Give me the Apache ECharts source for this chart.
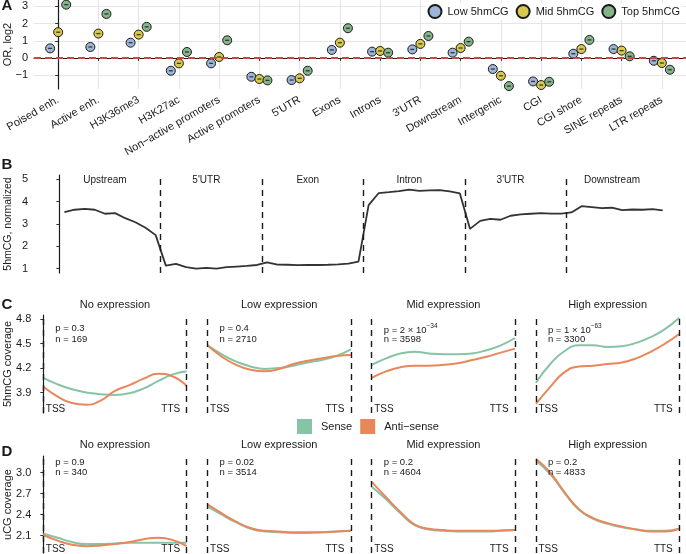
<!DOCTYPE html>
<html>
<head>
<meta charset="utf-8">
<script src="https://cdn.jsdelivr.net/npm/echarts@6/dist/echarts.min.js"></script>
<style>
html, body { margin: 0; padding: 0; background: #fff; }
#chart { width: 686px; height: 554px; }
</style>
</head>
<body>
<div id="chart"></div>
<script>
const FONT = "'Liberation Sans', Arial, sans-serif";
const INK = '#1a1a1a';

// A: odds ratios (log2) per genomic feature
const categories = ['Poised enh.', 'Active enh.', 'H3K36me3', 'H3K27ac', 'Non\u2212active promoters', 'Active promoters', "5'UTR", 'Exons', 'Introns', "3'UTR", 'Downstream', 'Intergenic', 'CGI', 'CGI shore', 'SINE repeats', 'LTR repeats'];
const lowHm = [0.56, 0.64, 0.89, -0.74, -0.31, -1.09, -1.28, 0.47, 0.37, 0.50, 0.31, -0.64, -1.36, 0.25, 0.52, -0.16];
const midHm = [1.50, 1.42, 1.36, -0.31, 0.06, -1.22, -1.18, 0.89, 0.41, 0.82, 0.58, -1.03, -1.57, 0.52, 0.43, -0.29];
const topHm = [3.10, 2.56, 1.81, 0.35, 1.03, -1.30, -0.74, 1.73, 0.31, 1.28, 0.95, -1.63, -1.38, 1.05, 0.10, -0.68];
const orTicks = [-1, 0, 1, 2, 3];

// B: metagene profile, 10 bins per section
const sections = ['Upstream', "5'UTR", 'Exon', 'Intron', "3'UTR", 'Downstream'];
const profile = [
  3.53, 3.64, 3.68, 3.64, 3.46, 3.49, 3.26, 3.08, 2.83, 2.50,
  1.13, 1.21, 1.06, 1.00, 1.03, 1.00, 1.06, 1.09, 1.12, 1.16,
  1.28, 1.18, 1.17, 1.15, 1.16, 1.16, 1.17, 1.19, 1.22, 1.31,
  3.85, 4.39, 4.43, 4.48, 4.54, 4.49, 4.51, 4.52, 4.46, 4.37,
  2.78, 3.14, 3.23, 3.19, 3.37, 3.43, 3.46, 3.49, 3.47, 3.47,
  3.52, 3.80, 3.76, 3.71, 3.73, 3.62, 3.65, 3.64, 3.67, 3.61
];
const profileTicks = [1, 2, 3, 4, 5];

// C / D: coverage along gene body (TSS = 0, TTS = 100)
const facets = ['No expression', 'Low expression', 'Mid expression', 'High expression'];
const genePos = [0, 10, 20, 30, 40, 50, 60, 70, 80, 90, 100];
const hmSense = [
  [4.08, 4.00, 3.94, 3.90, 3.88, 3.87, 3.89, 3.95, 4.04, 4.12, 4.16],
  [4.48, 4.37, 4.28, 4.22, 4.19, 4.20, 4.23, 4.27, 4.30, 4.35, 4.43],
  [4.24, 4.32, 4.38, 4.40, 4.38, 4.37, 4.37, 4.38, 4.42, 4.48, 4.57],
  [4.02, 4.25, 4.41, 4.48, 4.48, 4.46, 4.47, 4.51, 4.58, 4.68, 4.82]
];
const hmAnti = [
  [3.97, 3.85, 3.77, 3.75, 3.80, 3.92, 3.99, 4.07, 4.13, 4.10, 3.98],
  [4.48, 4.34, 4.24, 4.18, 4.16, 4.19, 4.25, 4.29, 4.32, 4.35, 4.36],
  [4.08, 4.16, 4.21, 4.23, 4.23, 4.24, 4.26, 4.30, 4.34, 4.39, 4.44],
  [3.76, 3.97, 4.15, 4.22, 4.23, 4.25, 4.27, 4.32, 4.40, 4.50, 4.62]
];
const hmP = ['0.3', '0.4', '2 \u00d7 10^\u221234', '1 \u00d7 10^\u221263'];
const hmN = [169, 2710, 3598, 3300];
const hmTicks = [3.9, 4.2, 4.5, 4.8];

const ucgSense = [
  [2.13, 2.07, 2.01, 1.98, 1.98, 1.99, 2.00, 2.00, 2.00, 2.00, 2.00],
  [2.52, 2.40, 2.29, 2.20, 2.16, 2.15, 2.14, 2.14, 2.15, 2.16, 2.17],
  [2.80, 2.62, 2.42, 2.25, 2.19, 2.17, 2.16, 2.16, 2.16, 2.17, 2.18],
  [3.17, 2.98, 2.71, 2.47, 2.34, 2.27, 2.22, 2.19, 2.17, 2.17, 2.20]
];
const ucgAnti = [
  [2.11, 2.03, 1.97, 1.95, 1.96, 1.98, 2.01, 2.05, 2.07, 2.04, 1.95],
  [2.55, 2.42, 2.30, 2.21, 2.17, 2.16, 2.15, 2.15, 2.15, 2.16, 2.17],
  [2.87, 2.65, 2.44, 2.26, 2.20, 2.18, 2.17, 2.17, 2.17, 2.175, 2.18],
  [3.20, 3.00, 2.72, 2.48, 2.35, 2.28, 2.23, 2.19, 2.16, 2.16, 2.20]
];
const ucgP = ['0.9', '0.02', '0.2', '0.2'];
const ucgN = [340, 3514, 4604, 4833];
const ucgTicks = [2.1, 2.4, 2.7, 3.0];

const SENSE = '#86c4a5';
const ANTI = '#e8875b';

const chart = echarts.init(document.getElementById('chart'));

const txtStyle = (size) => ({ fontSize: size, fontFamily: FONT, color: INK });

const grids = [
  { left: 34, top: 0, width: 652, height: 89 },
  { left: 34, top: 175, width: 652, height: 98 }
];
const facetLeft = k => 37.3 + 164.2 * k;
const cTop = 315, cH = 98, dTop = 456, dH = 97;
facets.forEach((f, k) => grids.push({ left: facetLeft(k), top: cTop, width: 155.4, height: cH }));
facets.forEach((f, k) => grids.push({ left: facetLeft(k), top: dTop, width: 155.4, height: dH }));
grids.forEach(g => { g.outerBoundsMode = 'none'; g.containLabel = false; });

const catIdx = categories.map((c, i) => i);
const xAxes = [
  {
    gridIndex: 0, type: 'value', min: -0.6, max: 15.6,
    axisLine: { lineStyle: { color: INK, width: 1.2 } },
    axisTick: { customValues: catIdx, length: 3, lineStyle: { color: '#333' } },
    axisLabel: Object.assign({ customValues: catIdx, formatter: v => categories[Math.round(v)], rotate: 30, margin: 10 }, txtStyle(11)),
    splitLine: { show: true, lineStyle: { color: '#e6e6e6', width: 1.2 } }
  },
  { gridIndex: 1, type: 'value', min: -2.5, max: 61.8, show: false },
  {
    gridIndex: 1, type: 'value', min: -2.5, max: 61.8, position: 'top',
    axisLine: { show: false }, axisTick: { show: false }, splitLine: { show: false },
    axisLabel: Object.assign({ inside: true, margin: 0, customValues: sections.map((s, k) => k * 10 + 4.5), formatter: v => sections[Math.floor(v / 10)] }, txtStyle(10))
  }
];
const yAxes = [
  {
    gridIndex: 0, type: 'value', min: -1.8, max: 3.37,
    name: 'OR, log2', nameLocation: 'middle', nameGap: 20.5, nameRotate: 90, nameMoveOverlap: false, nameTextStyle: txtStyle(11),
    axisLine: { show: true, lineStyle: { color: INK, width: 1.2 } },
    axisTick: { show: true, customValues: orTicks, length: 3, lineStyle: { color: '#333' } },
    axisLabel: Object.assign({ customValues: orTicks, margin: 6, formatter: v => v < 0 ? '\u2212' + (-v) : String(v) }, txtStyle(11)),
    splitLine: { show: true, lineStyle: { color: '#e6e6e6', width: 1.2 } }
  },
  {
    gridIndex: 1, type: 'value', min: 0.8, max: 5.2,
    name: '5hmCG, normalized', nameLocation: 'middle', nameGap: 20.5, nameRotate: 90, nameMoveOverlap: false, nameTextStyle: txtStyle(10.5),
    axisLine: { show: true, lineStyle: { color: INK, width: 1.2 } },
    axisTick: { show: true, customValues: profileTicks, length: 3, lineStyle: { color: '#333' } },
    axisLabel: Object.assign({ customValues: profileTicks, margin: 6 }, txtStyle(11)),
    splitLine: { show: false }
  }
];

function facetY(gi, min, max, ticks, name, shown) {
  return {
    gridIndex: gi, type: 'value', min: min, max: max, show: shown,
    name: name, nameLocation: 'middle', nameGap: 24, nameRotate: 90, nameMoveOverlap: false, nameTextStyle: txtStyle(11),
    axisLine: { show: true, lineStyle: { color: INK, width: 1.2 } },
    axisTick: { show: true, customValues: ticks, length: 3, lineStyle: { color: '#333' } },
    axisLabel: Object.assign({ customValues: ticks, margin: 6, formatter: v => v.toFixed(1) }, txtStyle(11)),
    splitLine: { show: false }
  };
}

const series = [];
// zero reference line for A
series.push({
  type: 'line', xAxisIndex: 0, yAxisIndex: 0, data: [], z: 2, silent: true,
  markLine: {
    silent: true, symbol: 'none', label: { show: false },
    lineStyle: { color: '#d1453f', type: [7, 4], width: 2 },
    data: [{ yAxis: 0 }]
  }
});
const groups = [
  { name: 'Low 5hmCG', vals: lowHm, color: '#9db5d6', dx: -0.2 },
  { name: 'Mid 5hmCG', vals: midHm, color: '#d8c94e', dx: 0 },
  { name: 'Top 5hmCG', vals: topHm, color: '#86b48a', dx: 0.2 }
];
const dashPts = [];
groups.forEach(g => {
  const pts = g.vals.map((v, i) => [i + g.dx, v]);
  dashPts.push(...pts);
  series.push({
    name: g.name, type: 'scatter', xAxisIndex: 0, yAxisIndex: 0, z: 3,
    symbol: 'circle', symbolSize: 9,
    itemStyle: { color: g.color, borderColor: INK, borderWidth: 1, opacity: 1 },
    data: pts
  });
});
series.push({
  type: 'scatter', xAxisIndex: 0, yAxisIndex: 0, z: 4, silent: true,
  symbol: 'rect', symbolSize: [4, 1.3], itemStyle: { color: INK }, data: dashPts
});

// B profile
series.push({
  type: 'line', xAxisIndex: 1, yAxisIndex: 1, showSymbol: false, symbol: 'none',
  lineStyle: { color: '#333', width: 1.8 }, data: profile.map((v, i) => [i + 0.5, v]),
  markLine: {
    silent: true, symbol: 'none', label: { show: false },
    lineStyle: { color: INK, type: [6, 5], width: 1.4 },
    data: sections.slice(1).map((s, k) => ({ xAxis: (k + 1) * 10 }))
  }
});

// C / D facets
function addFacet(xi, yi, sense, anti) {
  series.push({
    name: 'Sense', type: 'line', xAxisIndex: xi, yAxisIndex: yi, smooth: 0.5, showSymbol: false, symbol: 'none',
    itemStyle: { color: SENSE }, lineStyle: { color: SENSE, width: 2 },
    data: genePos.map((p, i) => [p, sense[i]]),
    markLine: {
      silent: true, symbol: 'none', label: { show: false },
      lineStyle: { color: INK, type: [6, 5], width: 1.4 },
      data: [{ xAxis: genePos[0] }, { xAxis: genePos[genePos.length - 1] }]
    }
  });
  series.push({
    name: 'Anti\u2212sense', type: 'line', xAxisIndex: xi, yAxisIndex: yi, smooth: 0.5, showSymbol: false, symbol: 'none',
    itemStyle: { color: ANTI }, lineStyle: { color: ANTI, width: 2 },
    data: genePos.map((p, i) => [p, anti[i]])
  });
}
facets.forEach((f, k) => {
  xAxes.push({ gridIndex: 2 + k, type: 'value', min: -4.2, max: 104.2, show: false });
  yAxes.push(facetY(2 + k, 3.648, 4.853, hmTicks, '5hmCG coverage', k === 0));
  addFacet(xAxes.length - 1, yAxes.length - 1, hmSense[k], hmAnti[k]);
});
facets.forEach((f, k) => {
  xAxes.push({ gridIndex: 6 + k, type: 'value', min: -4.2, max: 104.2, show: false });
  yAxes.push(facetY(6 + k, 1.853, 3.239, ucgTicks, 'uCG coverage', k === 0));
  addFacet(xAxes.length - 1, yAxes.length - 1, ucgSense[k], ucgAnti[k]);
});

chart.setOption({
  animation: false,
  backgroundColor: '#fff',
  textStyle: { fontFamily: FONT },
  grid: grids,
  xAxis: xAxes,
  yAxis: yAxes,
  legend: [
    {
      data: groups.map(g => g.name), right: 4, top: 3, icon: 'circle', itemWidth: 13, itemHeight: 13, itemGap: 7,
      backgroundColor: '#fff', padding: [1, 2, 1, 2],
      textStyle: Object.assign({ padding: [0, 0, 0, 1] }, txtStyle(11))
    },
    {
      data: ['Sense', 'Anti\u2212sense'], left: 297, top: 419, icon: 'rect', itemWidth: 15, itemHeight: 15, itemGap: 8,
      padding: 0, textStyle: Object.assign({ padding: [0, 0, 0, 4] }, txtStyle(11))
    }
  ],
  series: series
});

// annotation texts
function text(x, y, str, extra) {
  return {
    type: 'text', x: x, y: y, silent: true, z: 100,
    style: Object.assign({ text: str, fill: INK, font: '11px ' + FONT, align: 'left', verticalAlign: 'middle' }, extra || {})
  };
}
function pStyle(s) {
  const parts = s.split('^');
  if (parts.length === 1) return { text: 'p = ' + s };
  return {
    text: '{a|p = ' + parts[0] + '}{b|' + parts[1] + '}',
    rich: {
      a: { fontSize: 9.5, fontFamily: FONT, fill: INK, verticalAlign: 'bottom', lineHeight: 13 },
      b: { fontSize: 6.5, fontFamily: FONT, fill: INK, verticalAlign: 'top', lineHeight: 13 }
    }
  };
}
const gfx = [];
[['A', 6], ['B', 164.5], ['C', 305], ['D', 451.5]].forEach(([t, y]) => gfx.push(text(1.5, y, t, { font: 'bold 15px ' + FONT })));

const panels = [
  { base: 2, top: cTop, h: cH, p: hmP, n: hmN, pOff: 13.8, nOff: 24.5, titleOff: -10 },
  { base: 6, top: dTop, h: dH, p: ucgP, n: ucgN, pOff: 6.3, nOff: 16.2, titleOff: -11 }
];
panels.forEach(pn => {
  facets.forEach((f, k) => {
    const gi = pn.base + k;
    const g = grids[gi];
    const x0 = chart.convertToPixel({ gridIndex: gi }, [genePos[0], 0])[0];
    const x1 = chart.convertToPixel({ gridIndex: gi }, [genePos[genePos.length - 1], 0])[0];
    gfx.push(text(g.left + g.width / 2, pn.top + pn.titleOff, f, { align: 'center' }));
    gfx.push(text(x0 + 12, pn.top + pn.pOff, '', Object.assign({ font: '9.5px ' + FONT }, pStyle(pn.p[k]))));
    gfx.push(text(x0 + 12, pn.top + pn.nOff, 'n = ' + pn.n[k], { font: '9.5px ' + FONT }));
    gfx.push(text(x0 + 2.5, pn.top + pn.h - 4, 'TSS', { font: '10px ' + FONT }));
    gfx.push(text(x1 - 6.5, pn.top + pn.h - 4, 'TTS', { font: '10px ' + FONT, align: 'right' }));
  });
});
chart.setOption({ graphic: gfx });
</script>
</body>
</html>
